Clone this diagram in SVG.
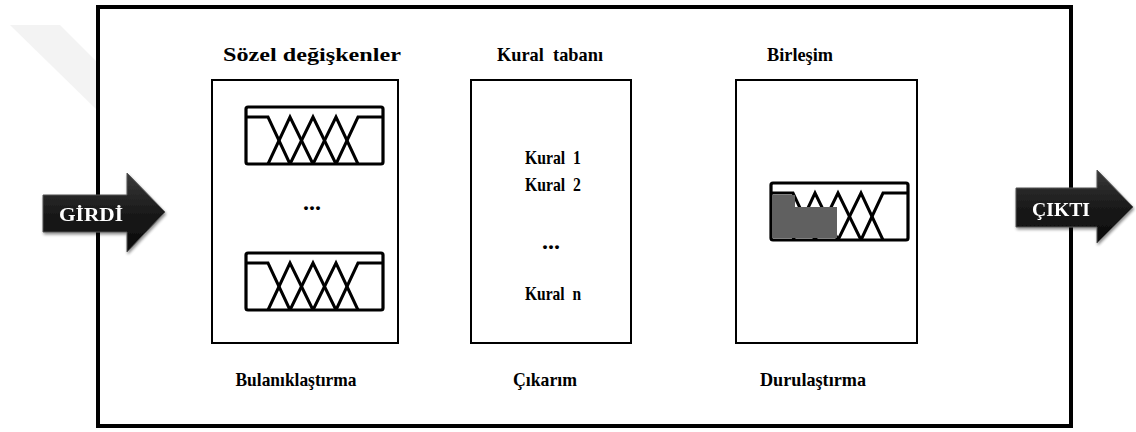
<svg xmlns="http://www.w3.org/2000/svg" width="1136" height="432" viewBox="0 0 1136 432">
  <defs>
    <style>
      .lbl { font-family: "Liberation Serif", "Times New Roman", serif; font-weight: bold; font-size: 19px; fill: #000; }
      .dots { font-family: "Liberation Serif", "Times New Roman", serif; font-weight: bold; font-size: 24px; fill: #000; }
      .arrow-txt { font-family: "Liberation Serif", "Times New Roman", serif; font-weight: bold; font-size: 19px; fill: #fff; }
      .frame { fill: #fff; stroke: #000; stroke-width: 4; }
      .box { fill: #fff; stroke: #000; stroke-width: 2; }
      .mf { fill: none; stroke: #000; stroke-width: 3; stroke-linejoin: miter; }
      .mfbox { fill: #fff; stroke: #000; stroke-width: 3.2; }
    </style>
    <linearGradient id="arrowFill" x1="0" y1="0" x2="0" y2="1">
      <stop offset="0" stop-color="#3a3a3a"/>
      <stop offset="0.5" stop-color="#1a1a1a"/>
      <stop offset="1" stop-color="#0a0a0a"/>
    </linearGradient>
    <filter id="shadow" x="-20%" y="-20%" width="140%" height="150%">
      <feGaussianBlur in="SourceAlpha" stdDeviation="1.5"/>
      <feOffset dx="1" dy="2" result="b"/>
      <feComponentTransfer><feFuncA type="linear" slope="0.45"/></feComponentTransfer>
      <feMerge><feMergeNode/><feMergeNode in="SourceGraphic"/></feMerge>
    </filter>
    <!-- membership-function icon: 5 overlapping sets -->
    <g id="mfIcon">
      <rect class="mfbox" x="0" y="0" width="137" height="57" rx="2"/>
      <polyline class="mf" points="0,10 22,10 44,57"/>
      <polyline class="mf" points="22,57 44,10 67,57"/>
      <polyline class="mf" points="44,57 67,10 90,57"/>
      <polyline class="mf" points="67,57 90,10 112,57"/>
      <polyline class="mf" points="90,57 112,10 137,10"/>
    </g>
  </defs>

  <rect width="1136" height="432" fill="#fff"/>

  <!-- faint background mark -->
  <polygon points="10,25 60,25 97,62 97,110" fill="#f3f3f3"/>

  <!-- outer frame -->
  <rect id="frame" class="frame" x="98" y="7" width="973" height="419"/>

  <!-- fuzzification block -->
  <g id="fuzzification">
    <text class="lbl" x="312" y="61" text-anchor="middle" textLength="178" lengthAdjust="spacingAndGlyphs">Sözel değişkenler</text>
    <rect class="box" x="212" y="80" width="186" height="263"/>
    <use href="#mfIcon" x="246" y="107"/>
    <text class="dots" x="312" y="210" text-anchor="middle">...</text>
    <use href="#mfIcon" x="246" y="253"/>
    <text class="lbl" x="296" y="386" text-anchor="middle" textLength="121" lengthAdjust="spacingAndGlyphs">Bulanıklaştırma</text>
  </g>

  <!-- rule base / inference block -->
  <g id="inference">
    <text class="lbl" x="550" y="61" text-anchor="middle" textLength="106" lengthAdjust="spacingAndGlyphs" xml:space="preserve">Kural  tabanı</text>
    <rect class="box" x="471" y="80" width="160" height="263"/>
    <text class="lbl" x="553" y="164" text-anchor="middle" textLength="56" lengthAdjust="spacingAndGlyphs" xml:space="preserve">Kural  1</text>
    <text class="lbl" x="553" y="191" text-anchor="middle" textLength="56" lengthAdjust="spacingAndGlyphs" xml:space="preserve">Kural  2</text>
    <text class="dots" x="551" y="249" text-anchor="middle">...</text>
    <text class="lbl" x="553" y="300" text-anchor="middle" textLength="56" lengthAdjust="spacingAndGlyphs" xml:space="preserve">Kural  n</text>
    <text class="lbl" x="545" y="386" text-anchor="middle" textLength="64" lengthAdjust="spacingAndGlyphs">Çıkarım</text>
  </g>

  <!-- aggregation / defuzzification block -->
  <g id="defuzzification">
    <text class="lbl" x="800" y="61" text-anchor="middle" textLength="66" lengthAdjust="spacingAndGlyphs">Birleşim</text>
    <rect class="box" x="736" y="80" width="181" height="263"/>
    <use href="#mfIcon" x="771" y="183"/>
    <polygon points="772,195 795,195 795,207 837,207 837,238 772,238" fill="#606060"/>
    <text class="lbl" x="813" y="386" text-anchor="middle" textLength="106" lengthAdjust="spacingAndGlyphs">Durulaştırma</text>
  </g>

  <!-- input / output arrows -->
  <g id="connectors">
    <g id="input-arrow" filter="url(#shadow)">
      <polygon points="43,195 127,195 127,173 165,212 127,252 127,232 43,232" fill="url(#arrowFill)" stroke="#555" stroke-width="1"/>
      <text class="arrow-txt" x="91" y="221" text-anchor="middle" textLength="64" lengthAdjust="spacingAndGlyphs">GİRDİ</text>
    </g>
    <g id="output-arrow" filter="url(#shadow)">
      <polygon points="1016,188 1097,188 1097,170 1133,207 1097,243 1097,227 1016,227" fill="url(#arrowFill)" stroke="#555" stroke-width="1"/>
      <text class="arrow-txt" x="1061" y="216" text-anchor="middle" textLength="58" lengthAdjust="spacingAndGlyphs">ÇIKTI</text>
    </g>
  </g>
</svg>
